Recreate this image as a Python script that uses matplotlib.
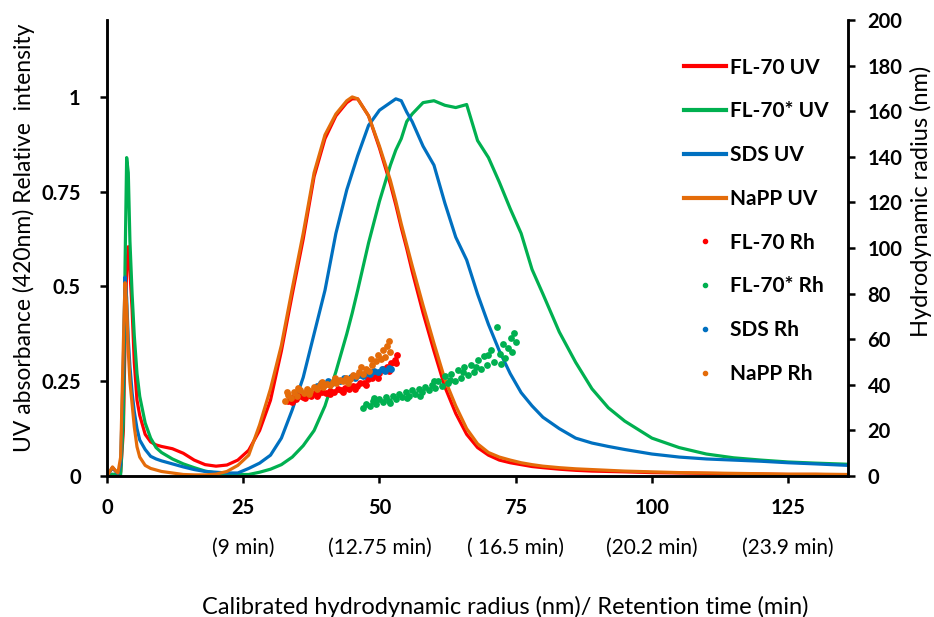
import matplotlib.pyplot as plt
from matplotlib.lines import Line2D

plt.rcParams['font.family'] = ['Lato', 'DejaVu Sans']

# UV traces (relative intensity), common radius grid in nm
uv_x = [0, 1, 1.5, 2, 2.5, 3, 3.3, 3.6, 3.9, 4.2, 4.6, 5, 5.5, 6, 7, 8, 9, 10, 12, 14,
        16, 18, 20, 22, 24, 26, 28, 30, 32, 34, 36, 38, 40, 42, 44, 45, 46, 48, 50, 52,
        53, 54, 55, 56, 58, 60, 62, 64, 66, 68, 70, 72, 74, 76, 78, 80, 83, 86, 89, 92,
        95, 100, 105, 110, 115, 120, 125, 130, 136]

fl70_uv = [0, 0.022, 0.014, 0.006, 0.01, 0.12, 0.35, 0.55, 0.605, 0.54, 0.44, 0.3, 0.2, 0.16,
           0.11, 0.09, 0.082, 0.078, 0.072, 0.06, 0.042, 0.03, 0.026, 0.029, 0.042, 0.068,
           0.12, 0.2, 0.33, 0.48, 0.625, 0.79, 0.89, 0.95, 0.985, 0.995, 0.995, 0.95, 0.865,
           0.77, 0.715, 0.655, 0.6, 0.54, 0.43, 0.33, 0.235, 0.165, 0.11, 0.075, 0.055, 0.042,
           0.035, 0.03, 0.025, 0.022, 0.018, 0.015, 0.013, 0.012, 0.011, 0.009, 0.008, 0.007,
           0.006, 0.005, 0.004, 0.004, 0.003]

fl70s_uv = [0, 0.005, 0.004, 0.003, 0.004, 0.15, 0.55, 0.84, 0.8, 0.62, 0.48, 0.37, 0.27, 0.21,
            0.14, 0.1, 0.075, 0.062, 0.045, 0.032, 0.022, 0.013, 0.008, 0.005, 0.004, 0.004,
            0.01, 0.018, 0.03, 0.05, 0.08, 0.12, 0.185, 0.275, 0.375, 0.43, 0.49, 0.615, 0.725,
            0.82, 0.86, 0.89, 0.935, 0.955, 0.985, 0.99, 0.978, 0.972, 0.98, 0.885, 0.84, 0.775,
            0.705, 0.64, 0.545, 0.48, 0.38, 0.3, 0.23, 0.18, 0.145, 0.1, 0.075, 0.058, 0.048,
            0.042, 0.037, 0.034, 0.031]

sds_uv = [0, 0.022, 0.014, 0.006, 0.03, 0.3, 0.525, 0.47, 0.36, 0.29, 0.22, 0.17, 0.125, 0.095,
          0.07, 0.052, 0.045, 0.04, 0.032, 0.024, 0.017, 0.012, 0.01, 0.008, 0.008, 0.02,
          0.034, 0.055, 0.1, 0.175, 0.26, 0.375, 0.49, 0.64, 0.755, 0.8, 0.845, 0.925, 0.965,
          0.985, 0.995, 0.99, 0.96, 0.935, 0.87, 0.82, 0.72, 0.63, 0.57, 0.48, 0.4, 0.33, 0.27,
          0.22, 0.185, 0.155, 0.125, 0.1, 0.087, 0.078, 0.07, 0.058, 0.05, 0.045, 0.042, 0.039,
          0.035, 0.032, 0.028]

napp_uv = [0, 0.024, 0.015, 0.008, 0.05, 0.35, 0.51, 0.45, 0.33, 0.25, 0.19, 0.13, 0.077, 0.05,
           0.028, 0.02, 0.016, 0.012, 0.008, 0.004, 0.003, 0.003, 0.005, 0.012, 0.028, 0.055,
           0.135, 0.23, 0.345, 0.495, 0.64, 0.8, 0.9, 0.955, 0.99, 1.0, 0.995, 0.95, 0.87, 0.78,
           0.725, 0.665, 0.61, 0.555, 0.45, 0.35, 0.255, 0.185, 0.125, 0.085, 0.062, 0.05, 0.042,
           0.035, 0.03, 0.026, 0.022, 0.019, 0.017, 0.015, 0.013, 0.011, 0.009, 0.008, 0.007,
           0.006, 0.005, 0.005, 0.004]

# hydrodynamic radius points (nm) vs calibrated radius
fl70_rh_x = [33.2, 33.9, 34.6, 35.3, 36.0, 36.7, 37.4, 38.1, 38.8, 39.5, 40.2, 40.9, 41.6, 42.3,
             43.0, 43.7, 44.4, 45.1, 45.8, 46.5, 47.2, 47.9, 48.6, 49.3, 50.0, 50.7, 51.4,
             52.1, 52.8, 53.3, 34.0, 36.4, 38.5, 41.0, 43.3, 45.5, 47.6, 49.7, 51.8, 53.0]
fl70_rh = [33.0, 34.2, 33.6, 35.1, 34.6, 35.8, 35.2, 36.4, 35.9, 37.0, 36.3, 37.5, 36.9, 38.0,
           37.6, 38.8, 38.3, 39.6, 39.3, 40.8, 41.0, 42.6, 43.0, 44.5, 45.2, 46.8, 47.9, 49.6,
           51.0, 53.0, 32.4, 34.1, 35.0, 35.8, 36.7, 38.2, 40.1, 43.2, 46.0, 49.5]

fl70s_rh_x = [47.0, 47.6, 48.2, 48.8, 49.4, 50.0, 50.6, 51.2, 51.8, 52.4, 53.0, 53.6, 54.2, 54.8,
              55.4, 56.0, 56.6, 57.2, 57.8, 58.4, 59.0, 59.6, 60.2, 60.8, 61.4, 62.0, 62.6,
              63.2, 63.8, 64.4, 65.0, 65.6, 66.2, 66.8, 67.4, 68.0, 68.6, 69.2, 69.8, 70.4,
              71.0, 71.6, 72.1, 72.6, 73.1, 73.6, 74.1, 74.6, 75.0,
              49.0, 52.0, 55.0, 57.5, 60.0, 63.0, 65.3, 67.8, 70.0, 72.3, 74.3]
fl70s_rh = [30.0, 31.8, 30.8, 32.9, 31.5, 33.6, 32.4, 34.5, 33.0, 35.1, 33.8, 35.9, 34.6, 36.7,
            35.3, 37.6, 36.0, 38.3, 36.9, 39.2, 37.6, 40.0, 38.5, 41.6, 39.4, 43.8, 40.6, 44.9,
            41.5, 46.3, 43.0, 47.8, 44.2, 48.6, 45.6, 51.0, 47.0, 52.6, 48.8, 55.4, 50.2, 65.2,
            53.5, 57.8, 51.6, 56.0, 60.4, 62.6, 58.7,
            34.0, 32.2, 34.2, 35.0, 41.8, 42.3, 45.6, 47.8, 53.0, 49.0, 54.5]

sds_rh_x = [38.5, 39.2, 39.9, 40.6, 41.3, 42.0, 42.7, 43.4, 44.1, 44.8, 45.5, 46.2, 46.9, 47.6,
            48.3, 49.0, 49.7, 50.4, 51.1, 51.7, 52.2]
sds_rh = [39.5, 40.6, 40.1, 41.5, 40.9, 42.2, 41.6, 42.9, 42.4, 43.6, 43.1, 44.4, 43.9, 45.2,
          44.7, 46.0, 45.5, 46.8, 46.2, 47.5, 46.9]

napp_rh_x = [32.7, 33.2, 33.8, 34.3, 34.9, 35.5, 36.1, 36.7, 37.3, 37.9, 38.5, 39.1, 39.7, 40.3,
             40.9, 41.5, 42.1, 42.7, 43.3, 43.9, 44.5, 45.1, 45.7, 46.3, 46.9, 47.5, 48.1,
             48.7, 49.3, 49.8, 50.2, 50.6, 51.0, 51.4, 51.7, 52.0,
             33.0, 35.0, 37.0, 39.4, 41.8, 44.2, 46.6, 48.4]
napp_rh = [32.8, 35.6, 34.0, 36.8, 35.2, 37.6, 36.5, 38.2, 37.4, 39.0, 38.1, 39.7, 38.9, 40.4,
           39.8, 41.3, 40.6, 42.2, 41.5, 43.1, 42.6, 44.2, 43.7, 45.4, 44.8, 46.9, 46.2, 48.6,
           50.5, 53.0, 51.2, 55.3, 52.4, 57.0, 59.3, 54.5,
           37.0, 38.5, 36.0, 41.2, 42.8, 41.0, 47.8, 51.5]

x_ticks = [0, 25, 50, 75, 100, 125]
time_labels = ['(9 min)', '(12.75 min)', '( 16.5 min)', '(20.2 min)', '(23.9 min)']
y_ticks = [0, 0.25, 0.5, 0.75, 1]
y_labels = ['0', '0.25', '0.5', '0.75', '1']

red = '#FF0000'
green = '#00B050'
blue = '#0070C0'
orange = '#E46C0A'

fig = plt.figure(figsize=(9.34, 6.17), dpi=100)
ax = fig.add_axes([0.1146, 0.2285, 0.7934, 0.7391])
ax2 = ax.twinx()

lw = 2.3
ax.plot(uv_x, fl70_uv, color=red, lw=lw)
ax.plot(uv_x, fl70s_uv, color=green, lw=lw)
ax.plot(uv_x, sds_uv, color=blue, lw=lw)
ax.plot(uv_x, napp_uv, color=orange, lw=lw)

ms = 24
ax2.scatter(fl70_rh_x, fl70_rh, s=ms, color=red, linewidths=0)
ax2.scatter(fl70s_rh_x, fl70s_rh, s=ms, color=green, linewidths=0)
ax2.scatter(sds_rh_x, sds_rh, s=ms, color=blue, linewidths=0)
ax2.scatter(napp_rh_x, napp_rh, s=ms, color=orange, linewidths=0)

ax.set_xlim(0, 136)
ax.set_ylim(0, 1.203)
ax2.set_ylim(0, 200)

ax.set_xticks(x_ticks)
ax.set_xticklabels([str(t) for t in x_ticks], fontweight='bold')
ax.set_yticks(y_ticks)
ax.set_yticklabels(y_labels, fontweight='bold')
ax2.set_yticks(range(0, 201, 20))
ax2.set_yticklabels([str(t) for t in range(0, 201, 20)], fontweight='bold')

for a in (ax, ax2):
    a.spines['top'].set_visible(False)
    for s in ('left', 'right', 'bottom'):
        a.spines[s].set_linewidth(1.8)
ax.tick_params(axis='x', labelsize=14.5, length=5, width=1.8, pad=11)
ax.tick_params(axis='y', labelsize=14.5, length=5, width=1.8, pad=14)
ax2.tick_params(axis='y', labelsize=14.5, length=5, width=1.8, pad=9)

trans = ax.get_xaxis_transform()
for xv, lab in zip(x_ticks[1:], time_labels):
    ax.text(xv, -0.158, lab, transform=trans, ha='center', va='center', fontsize=15)

ax.set_xlabel('Calibrated hydrodynamic radius (nm)/ Retention time (min)', fontsize=17)
ax.xaxis.set_label_coords(0.537, -0.262)
ax.set_ylabel('UV absorbance (420nm) Relative  intensity', fontsize=16.5)
ax.yaxis.set_label_coords(-0.097, 0.522)
ax2.set_ylabel('Hydrodynamic radius (nm)', fontsize=17)
ax2.yaxis.set_label_coords(1.083, 0.603)

handles = [
    Line2D([], [], color=red, lw=3, label='FL-70 UV'),
    Line2D([], [], color=green, lw=3, label='FL-70* UV'),
    Line2D([], [], color=blue, lw=3, label='SDS UV'),
    Line2D([], [], color=orange, lw=3, label='NaPP UV'),
    Line2D([], [], color=red, marker='o', ms=3, ls='none', label='FL-70 Rh'),
    Line2D([], [], color=green, marker='o', ms=3, ls='none', label='FL-70* Rh'),
    Line2D([], [], color=blue, marker='o', ms=3, ls='none', label='SDS Rh'),
    Line2D([], [], color=orange, marker='o', ms=3, ls='none', label='NaPP Rh'),
]
ax2.legend(handles=handles, loc='upper left', bbox_to_anchor=(0.7216, 0.9235),
           bbox_transform=fig.transFigure, frameon=False, handlelength=2.0,
           handletextpad=0.2, labelspacing=1.14, borderpad=0,
           prop={'weight': 'bold', 'size': 15})

fig.savefig('out.png', dpi=100)
